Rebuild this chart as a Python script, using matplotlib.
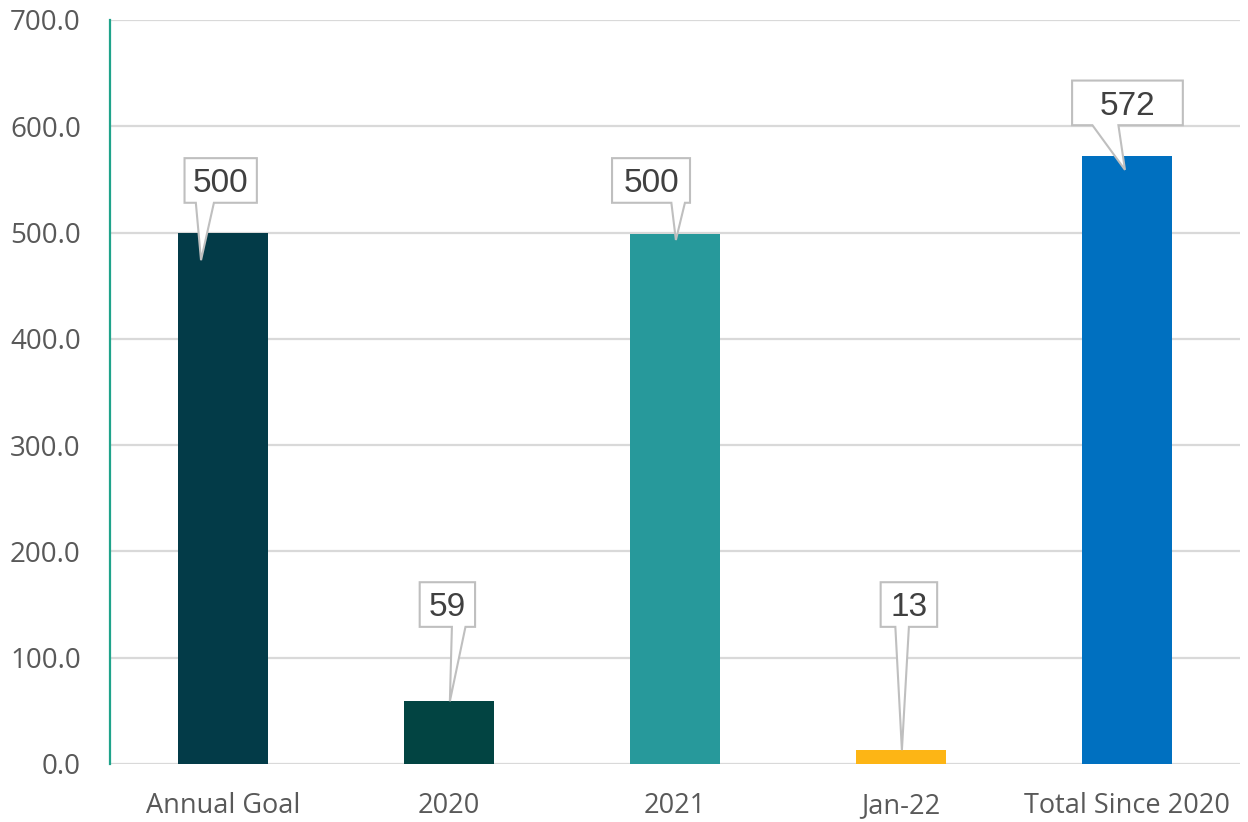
import matplotlib.pyplot as plt
from matplotlib.patches import Polygon
from matplotlib.ticker import FormatStrFormatter

## Data
categories = ["Annual Goal", "2020", "2021", "Jan-22", "Total Since 2020"]
values = [500, 59, 499, 13, 572]
bar_colors = ["#033B48", "#024442", "#27999B", "#FDB515", "#0070C0"]

# callout placement: box centre (x offset in categories, y in data units), box width,
# pointer tip offset (x in categories, y below bar top), pointer base (x offsets from box centre)
box_dx = [-0.01, -0.007, -0.106, 0.035, 0.002]
box_y = [549, 150, 549, 150, 622]
box_w = [0.32, 0.245, 0.345, 0.25, 0.49]
tip_dx = [-0.097, 0.004, 0.004, 0.004, -0.009]
tip_drop = [26, 0, 6, 0, 13]
base_l = [-0.11, 0.02, 0.09, -0.06, -0.155]
base_r = [-0.03, 0.08, 0.15, 0.0, -0.04]
box_h = 42

plt.rcParams["font.family"] = ["Open Sans", "DejaVu Sans"]

fig = plt.figure(figsize=(12.48, 8.22), dpi=100)
ax = fig.add_axes([0.0881, 0.0706, 0.9055, 0.9051])

x = list(range(len(categories)))
ax.bar(x, values, width=0.40, color=bar_colors, zorder=2)

ax.set_xlim(-0.5, len(categories) - 0.5)
ax.set_ylim(0, 700)
ax.set_yticks(range(0, 701, 100))
ax.yaxis.set_major_formatter(FormatStrFormatter("%.1f"))
ax.set_xticks(x)
ax.set_xticklabels(categories)
ax.grid(axis="y", color="#D9D9D9", linewidth=1.6, zorder=0)
ax.set_axisbelow(True)

for side in ["top", "right", "bottom"]:
    ax.spines[side].set_visible(False)
ax.spines["left"].set_color("#1FA38A")
ax.spines["left"].set_linewidth(1.6)

ax.tick_params(axis="y", length=0, pad=21, labelsize=20, labelcolor="#595959")
ax.tick_params(axis="x", length=0, pad=20, labelsize=19.5, labelcolor="#595959")

# data label callouts
for i, v in enumerate(values):
    cx = i + box_dx[i]
    cy = box_y[i]
    hw = box_w[i] / 2
    top = cy + box_h / 2
    bot = cy - box_h / 2
    tip = (i + tip_dx[i], v - tip_drop[i])
    pts = [
        (cx - hw, top),
        (cx + hw, top),
        (cx + hw, bot),
        (cx + base_r[i], bot),
        tip,
        (cx + base_l[i], bot),
        (cx - hw, bot),
    ]
    ax.add_patch(
        Polygon(pts, closed=True, facecolor="white", edgecolor="#BFBFBF",
                linewidth=1.5, zorder=3)
    )
    ax.text(cx, cy - 3, f"{round(v, -1) if v == 499 else v:.0f}", ha="center",
            va="center", fontsize=24, color="#404040",
            family=["Liberation Sans", "DejaVu Sans"], zorder=4)

plt.savefig("out.png", dpi=100)
